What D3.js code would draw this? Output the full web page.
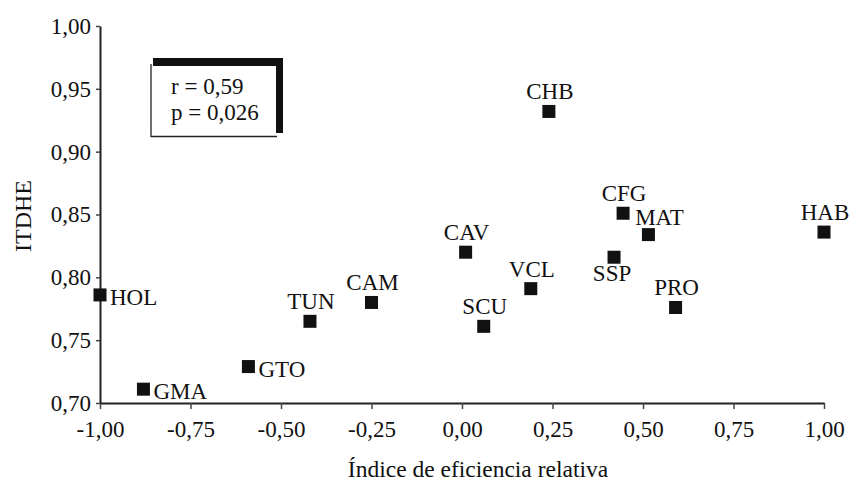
<!DOCTYPE html>
<html>
<head>
<meta charset="utf-8">
<script src="https://cdn.jsdelivr.net/npm/d3@7"></script>
<style>
  html, body { margin: 0; padding: 0; background: #fff; }
  svg { display: block; }
  svg text { font-family: "Times New Roman", "Liberation Serif", "DejaVu Serif", serif !important; fill: #111; }
</style>
</head>
<body>
<svg id="chart" width="855" height="482"></svg>
<script>
// Data
const names = ["HOL", "GMA", "GTO", "TUN", "CAM", "CAV", "SCU", "VCL", "CHB", "SSP", "CFG", "MAT", "PRO", "HAB"];
const xValues = [-1.00, -0.88, -0.59, -0.42, -0.25, 0.01, 0.06, 0.19, 0.24, 0.42, 0.445, 0.515, 0.59, 1.00];
const yValues = [0.786, 0.711, 0.729, 0.765, 0.780, 0.820, 0.761, 0.791, 0.932, 0.816, 0.851, 0.834, 0.776, 0.836];
const xTicks = [-1.00, -0.75, -0.50, -0.25, 0.00, 0.25, 0.50, 0.75, 1.00];
const yTicks = [0.70, 0.75, 0.80, 0.85, 0.90, 0.95, 1.00];
const statLines = ["r = 0,59", "p = 0,026"];
const xTitle = "Índice de eficiencia relativa";
const yTitle = "ITDHE";

// Label placement (style, not data)
const placement = {
  HOL: "right", GMA: "right", GTO: "right", SSP: "bottom", MAT: "topright"
};

const FONT = "'Times New Roman', 'Liberation Serif', serif";
const svg = d3.select("#chart");
const x = d3.scaleLinear().domain([-1, 1]).range([100, 824]);
const y = d3.scaleLinear().domain([0.70, 1.00]).range([403, 26]);
const fmt = d => d.toFixed(2).replace(".", ",");

// Axes
const xAxis = svg.append("g").attr("transform", `translate(0,${y(0.70)})`)
  .call(d3.axisBottom(x).tickValues(xTicks).tickFormat(fmt).tickSize(6).tickPadding(12).tickSizeOuter(0));
const yAxis = svg.append("g").attr("transform", `translate(${x(-1)},0)`)
  .call(d3.axisLeft(y).tickValues(yTicks).tickFormat(fmt).tickSize(4).tickPadding(5).tickSizeOuter(0));
[xAxis, yAxis].forEach(g => {
  g.attr("font-family", FONT).attr("font-size", 23);
  g.select(".domain").attr("stroke", "#222").attr("stroke-width", 2);
  g.selectAll(".tick line").attr("stroke", "#444").attr("stroke-width", 1.5);
  g.selectAll(".tick text").attr("fill", "#111");
});
yAxis.selectAll(".tick text").attr("dy", "0.32em");

// Axis titles
svg.append("text").attr("x", 478).attr("y", 477).attr("text-anchor", "middle")
  .attr("font-family", FONT).attr("font-size", 23.5).text(xTitle);
svg.append("text").attr("transform", `translate(31,216) rotate(-90)`).attr("text-anchor", "middle")
  .attr("font-family", FONT).attr("font-size", 24).text(yTitle);

// Stats box
const box = svg.append("g");
box.append("line").attr("x1", 151).attr("y1", 64).attr("x2", 151).attr("y2", 137).attr("stroke", "#222").attr("stroke-width", 1.3);
box.append("line").attr("x1", 151).attr("y1", 136.5).attr("x2", 277).attr("y2", 136.5).attr("stroke", "#222").attr("stroke-width", 1.3);
box.append("line").attr("x1", 153).attr("y1", 62).attr("x2", 283).attr("y2", 62).attr("stroke", "#111").attr("stroke-width", 8);
box.append("line").attr("x1", 279.5).attr("y1", 58).attr("x2", 279.5).attr("y2", 133).attr("stroke", "#111").attr("stroke-width", 7);
box.selectAll("text.stat").data(statLines).enter().append("text").attr("class", "stat")
  .attr("x", 171).attr("y", (d, i) => 94 + i * 26)
  .attr("font-family", FONT).attr("font-size", 23).text(d => d);

// Points
const data = names.map((n, i) => ({ name: n, x: xValues[i], y: yValues[i] }));
const sq = 13;
svg.selectAll("rect.pt").data(data).enter().append("rect").attr("class", "pt")
  .attr("x", d => x(d.x) - sq / 2).attr("y", d => y(d.y) - sq / 2)
  .attr("width", sq).attr("height", sq).attr("fill", "#111");

// Labels
svg.selectAll("text.lab").data(data).enter().append("text").attr("class", "lab")
  .attr("font-family", FONT).attr("font-size", 23)
  .attr("text-anchor", d => placement[d.name] === "right" ? "start" : "middle")
  .attr("x", d => {
    const p = placement[d.name];
    if (p === "right") return x(d.x) + 10;
    if (p === "topright") return x(d.x) + 11;
    if (p === "bottom") return x(d.x) - 2;
    return x(d.x) + 1;
  })
  .attr("y", d => {
    const p = placement[d.name];
    if (p === "right") return y(d.y) + 10;
    if (p === "topright") return y(d.y) - 10;
    if (p === "bottom") return y(d.y) + 24;
    return y(d.y) - 12;
  })
  .text(d => d.name);
</script>
</body>
</html>
